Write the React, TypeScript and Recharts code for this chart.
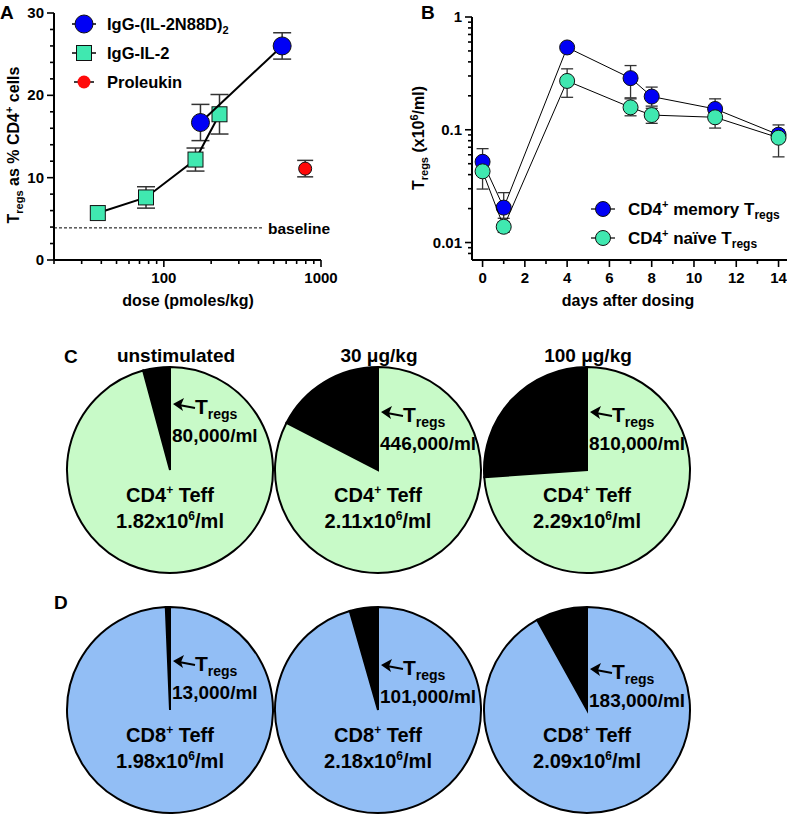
import React from 'react';
import {
  ComposedChart,
  Scatter,
  XAxis,
  YAxis,
  ErrorBar,
  ReferenceLine,
  PieChart,
  Pie,
  Cell,
} from 'recharts';

const FONT = '"Liberation Sans", Arial, Helvetica, sans-serif';

// Panel A: Tregs as % of CD4+ cells against dose
const n88dDose = [171, 566];
const n88dPct = [16.7, 26.0];
const n88dErr = [2.2, 1.6];
const il2Dose = [38, 77, 159, 226];
const il2Pct = [5.7, 7.6, 12.2, 17.7];
const il2Err = [0, 1.3, 1.4, 2.4];
const proleukinDose = [793];
const proleukinPct = [11.1];
const proleukinErr = [1.0];
const baselinePct = 3.9;
const baselineEndDose = 430;
const doseTicks = [20, 30, 40, 50, 60, 70, 80, 90, 100, 200, 300, 400, 500, 600, 700, 800, 900, 1000];
const doseLabels = [100, 1000];
const pctTicks = [0, 2, 4, 6, 8, 10, 12, 14, 16, 18, 20, 22, 24, 26, 28, 30];
const pctLabels = [0, 10, 20, 30];

// Panel B: Tregs (x10^6/ml) against days after dosing
const days = [0, 1, 4, 7, 8, 11, 14];
const memoryTregs = [0.052, 0.0204, 0.537, 0.287, 0.197, 0.153, 0.0904];
const memoryErr = [[0.012, 0.016], [0.004, 0.0073], [0.03, 0.03], [0.095, 0.084], [0.035, 0.042], [0.02, 0.035], [0.012, 0.02]];
const naiveTregs = [0.0428, 0.0138, 0.271, 0.158, 0.135, 0.129, 0.085];
const naiveErr = [[0.013, 0.012], [0.0015, 0.0015], [0.077, 0.076], [0.025, 0.03], [0.021, 0.02], [0.0255, 0.02], [0.0275, 0.015]];
const dayTicks = [0, 1, 2, 3, 4, 5, 6, 7, 8, 9, 10, 11, 12, 13, 14];
const dayLabels = [0, 2, 4, 6, 8, 10, 12, 14];
const concTicks = [0.008, 0.009, 0.01, 0.02, 0.03, 0.04, 0.05, 0.06, 0.07, 0.08, 0.09, 0.1, 0.2, 0.3, 0.4, 0.5, 0.6, 0.7, 0.8, 0.9, 1];
const concLabels = [0.01, 0.1, 1];

// Panels C and D: cells per ml
const doseGroups = ['unstimulated', '30 μg/kg', '100 μg/kg'];
const cd4Tregs = [80000, 446000, 810000];
const cd4Teff = [1820000, 2110000, 2290000];
const cd8Tregs = [13000, 101000, 183000];
const cd8Teff = [1980000, 2180000, 2090000];

const BLUE = '#0000F5';
const GREEN = '#40E8B0';
const RED = '#FF0a0a';
const PIE_GREEN = '#C8FAC8';
const PIE_BLUE = '#92BEF5';

const toPoints = (xs: number[], ys: number[], errs: any[]) =>
  xs.map((x, i) => ({ x, y: ys[i], err: errs[i] }));

const has = (list: number[], v: number) => list.some((l) => Math.abs(l - v) < 1e-9);

// custom ticks: tickSize/tickMargin are 0 so x,y sit on the axis line
const bottomTick = (labels: number[]) => (props: any) => {
  const { x, y, payload } = props;
  const major = has(labels, payload.value);
  return (
    <g>
      <line x1={x} x2={x} y1={y} y2={y + (major ? 7 : 4)} stroke="#000" strokeWidth={1.6} />
      {major && (
        <text x={x} y={y + 23} textAnchor="middle" fontFamily={FONT} fontWeight="bold" fontSize={15} fill="#000">
          {payload.value}
        </text>
      )}
    </g>
  );
};

const leftTick = (labels: number[]) => (props: any) => {
  const { x, y, payload } = props;
  const major = has(labels, payload.value);
  return (
    <g>
      <line x1={x - (major ? 7 : 4)} x2={x} y1={y} y2={y} stroke="#000" strokeWidth={1.6} />
      {major && (
        <text x={x - 10} y={y + 5} textAnchor="end" fontFamily={FONT} fontWeight="bold" fontSize={15} fill="#000">
          {payload.value}
        </text>
      )}
    </g>
  );
};

const dot = (r: number, fill: string) => (p: any) => (
  <circle cx={p.cx} cy={p.cy} r={r} fill={fill} stroke="#111" strokeWidth={1} />
);
const square = (s: number, fill: string) => (p: any) => (
  <rect x={p.cx - s / 2} y={p.cy - s / 2} width={s} height={s} fill={fill} stroke="#111" strokeWidth={1} />
);

const axisLine = { stroke: '#000', strokeWidth: 2 };
const txt = { fontFamily: FONT, fontWeight: 'bold' as const, fill: '#000' };

const PanelA = () => (
  <ComposedChart width={390} height={310} margin={{ top: 13, right: 69, bottom: 20, left: 0 }}>
    <XAxis
      type="number"
      dataKey="x"
      scale="log"
      domain={[20, 1000]}
      allowDataOverflow
      ticks={doseTicks}
      interval={0}
      tickSize={0}
      tickMargin={0}
      tickLine={false}
      axisLine={axisLine}
      tick={bottomTick(doseLabels)}
      height={30}
    />
    <YAxis
      type="number"
      dataKey="y"
      domain={[0, 30]}
      ticks={pctTicks}
      interval={0}
      tickSize={0}
      tickMargin={0}
      tickLine={false}
      axisLine={axisLine}
      tick={leftTick(pctLabels)}
      width={54}
    />
    <ReferenceLine
      segment={[{ x: 20, y: baselinePct }, { x: baselineEndDose, y: baselinePct }]}
      stroke="#000"
      strokeWidth={1}
      strokeDasharray="3 2"
    />
    <Scatter
      data={toPoints(il2Dose, il2Pct, il2Err)}
      line={{ stroke: '#000', strokeWidth: 2 }}
      lineType="joint"
      shape={square(15, GREEN)}
      isAnimationActive={false}
    >
      <ErrorBar dataKey="err" direction="y" width={9} stroke="#333" strokeWidth={1.5} />
    </Scatter>
    <Scatter
      data={toPoints(n88dDose, n88dPct, n88dErr)}
      line={{ stroke: '#000', strokeWidth: 2 }}
      lineType="joint"
      shape={dot(9, BLUE)}
      isAnimationActive={false}
    >
      <ErrorBar dataKey="err" direction="y" width={9} stroke="#333" strokeWidth={1.5} />
    </Scatter>
    <Scatter data={toPoints(proleukinDose, proleukinPct, proleukinErr)} shape={dot(6.5, RED)} isAnimationActive={false}>
      <ErrorBar dataKey="err" direction="y" width={8} stroke="#333" strokeWidth={1.5} />
    </Scatter>
  </ComposedChart>
);

const PanelB = () => (
  <ComposedChart width={397} height={310} margin={{ top: 17, right: 0, bottom: 20, left: 0 }}>
    <XAxis
      type="number"
      dataKey="x"
      domain={[-0.5, 14.4]}
      allowDataOverflow
      ticks={dayTicks}
      interval={0}
      tickSize={0}
      tickMargin={0}
      tickLine={false}
      axisLine={axisLine}
      tick={bottomTick(dayLabels)}
      height={30}
    />
    <YAxis
      type="number"
      dataKey="y"
      scale="log"
      domain={[0.007, 1]}
      allowDataOverflow
      ticks={concTicks}
      interval={0}
      tickSize={0}
      tickMargin={0}
      tickLine={false}
      axisLine={axisLine}
      tick={leftTick(concLabels)}
      width={82}
    />
    <Scatter
      data={toPoints(days, memoryTregs, memoryErr)}
      line={{ stroke: '#000', strokeWidth: 1 }}
      lineType="joint"
      shape={dot(7.5, BLUE)}
      isAnimationActive={false}
    >
      <ErrorBar dataKey="err" direction="y" width={6} stroke="#333" strokeWidth={1.3} />
    </Scatter>
    <Scatter
      data={toPoints(days, naiveTregs, naiveErr)}
      line={{ stroke: '#000', strokeWidth: 1 }}
      lineType="joint"
      shape={dot(7.5, GREEN)}
      isAnimationActive={false}
    >
      <ErrorBar dataKey="err" direction="y" width={6} stroke="#333" strokeWidth={1.3} />
    </Scatter>
  </ComposedChart>
);

const pieCx = [170, 378, 587];
const PIE_TOP = 330;
const rowCy = [470, 710];
const R = 103;

const pieRows = [
  { tregs: cd4Tregs, teff: cd4Teff, fill: PIE_GREEN, name: 'CD4' },
  { tregs: cd8Tregs, teff: cd8Teff, fill: PIE_BLUE, name: 'CD8' },
];

const Pies = () => (
  <PieChart width={787} height={485} margin={{ top: 0, right: 0, bottom: 0, left: 0 }}>
    {pieRows.map((row, r) =>
      row.tregs.map((t, i) => (
        <Pie
          key={`${r}-${i}`}
          data={[
            { name: 'Tregs', value: t },
            { name: 'Teff', value: row.teff[i] },
          ]}
          dataKey="value"
          cx={pieCx[i]}
          cy={rowCy[r] - PIE_TOP}
          outerRadius={R}
          startAngle={90}
          endAngle={450}
          stroke="#000"
          strokeWidth={2}
          isAnimationActive={false}
        >
          <Cell fill="#000" />
          <Cell fill={row.fill} />
        </Pie>
      ))
    )}
  </PieChart>
);

const Arrow = ({ x, y }: { x: number; y: number }) => (
  <g>
    <line x1={x + 22} y1={y + 3} x2={x + 6} y2={y} stroke="#000" strokeWidth={2.2} />
    <polygon points={`${x},${y - 1} ${x + 11},${y - 7} ${x + 8},${y} ${x + 10},${y + 6}`} fill="#000" />
  </g>
);

const Overlay = () => (
  <svg width={787} height={815} style={{ position: 'absolute', left: 0, top: 0, pointerEvents: 'none' }}>
    {/* panel letters */}
    <text x={0} y={19} fontSize={19} {...txt}>A</text>
    <text x={421} y={19} fontSize={19} {...txt}>B</text>
    <text x={64} y={363} fontSize={19} {...txt}>C</text>
    <text x={54} y={609} fontSize={19} {...txt}>D</text>

    {/* panel A labels */}
    <text transform="translate(19,145) rotate(-90)" textAnchor="middle" fontSize={16} {...txt}>
      T<tspan fontSize={11} dy={4}>regs</tspan>
      <tspan dy={-4}> as % CD4</tspan>
      <tspan fontSize={11} dy={-6}>+</tspan>
      <tspan dy={6}> cells</tspan>
    </text>
    <text x={188} y={306} textAnchor="middle" fontSize={16} {...txt}>dose (pmoles/kg)</text>
    <text x={268} y={234} fontSize={15.5} {...txt}>baseline</text>
    {/* panel A legend */}
    <g>
      <line x1={72} x2={96} y1={24} y2={24} stroke="#000" strokeWidth={1.5} />
      <circle cx={84} cy={24} r={9} fill={BLUE} stroke="#111" />
      <text x={107} y={30} fontSize={16.5} {...txt}>
        IgG-(IL-2N88D)<tspan fontSize={11} dy={4}>2</tspan>
      </text>
      <line x1={72} x2={96} y1={53} y2={53} stroke="#000" strokeWidth={1.5} />
      <rect x={76.5} y={45.5} width={15} height={15} fill={GREEN} stroke="#111" />
      <text x={107} y={59} fontSize={16.5} {...txt}>IgG-IL-2</text>
      <line x1={74} x2={94} y1={82} y2={82} stroke="#000" strokeWidth={1.5} />
      <circle cx={84} cy={82} r={6.5} fill={RED} />
      <text x={107} y={88} fontSize={16.5} {...txt}>Proleukin</text>
    </g>

    {/* panel B labels */}
    <text transform="translate(424,138) rotate(-90)" textAnchor="middle" fontSize={16} {...txt}>
      T<tspan fontSize={11} dy={4}>regs</tspan>
      <tspan dy={-4}> (x10</tspan>
      <tspan fontSize={11} dy={-6}>6</tspan>
      <tspan dy={6}>/ml)</tspan>
    </text>
    <text x={628} y={306} textAnchor="middle" fontSize={16} {...txt}>days after dosing</text>
    <g>
      <line x1={591} x2={615} y1={209} y2={209} stroke="#000" strokeWidth={1.2} />
      <circle cx={603} cy={209} r={7.5} fill={BLUE} stroke="#111" />
      <text x={628} y={215} fontSize={17} {...txt}>
        CD4<tspan fontSize={11} dy={-7}>+</tspan>
        <tspan dy={7}> memory T</tspan>
        <tspan fontSize={12} dy={4}>regs</tspan>
      </text>
      <line x1={591} x2={615} y1={238} y2={238} stroke="#000" strokeWidth={1.2} />
      <circle cx={603} cy={238} r={7.5} fill={GREEN} stroke="#111" />
      <text x={628} y={244} fontSize={17} {...txt}>
        CD4<tspan fontSize={11} dy={-7}>+</tspan>
        <tspan dy={7}> naïve T</tspan>
        <tspan fontSize={12} dy={4}>regs</tspan>
      </text>
    </g>

    {/* pie titles */}
    {doseGroups.map((g, i) => (
      <text key={g} x={pieCx[i] + (i === 0 ? 6 : 1)} y={362} textAnchor="middle" fontSize={19} {...txt}>
        {g}
      </text>
    ))}

    {/* pie labels */}
    {pieRows.map((row, r) =>
      row.tregs.map((t, i) => {
        const cx = pieCx[i];
        const cy = rowCy[r];
        const ay = r === 0 ? cy - 57 + (i === 0 ? -8 : 0) : cy - 48 + i * 4;
        return (
          <g key={`lab-${r}-${i}`}>
            <Arrow x={cx + 3} y={ay} />
            <text x={cx + 25} y={ay + 9} fontSize={21} {...txt}>
              T<tspan fontSize={14} dy={5}>regs</tspan>
            </text>
            <text x={cx + 2} y={ay + 37} fontSize={19} {...txt}>
              {t.toLocaleString('en-US')}/ml
            </text>
            <text x={cx} y={cy + 32} textAnchor="middle" fontSize={20} {...txt}>
              {row.name}
              <tspan fontSize={12} dy={-8}>+</tspan>
              <tspan dy={8}> Teff</tspan>
            </text>
            <text x={cx} y={cy + 58} textAnchor="middle" fontSize={20} {...txt}>
              {(row.teff[i] / 1e6).toFixed(2)}x10<tspan fontSize={12} dy={-8}>6</tspan>
              <tspan dy={8}>/ml</tspan>
            </text>
          </g>
        );
      })
    )}
  </svg>
);

export default function App() {
  return (
    <div style={{ position: 'absolute', left: 0, top: 0, width: 787, height: 815, background: '#fff', overflow: 'hidden' }}>
      <div style={{ position: 'absolute', left: 0, top: 0 }}>
        <PanelA />
      </div>
      <div style={{ position: 'absolute', left: 390, top: 0 }}>
        <PanelB />
      </div>
      <div style={{ position: 'absolute', left: 0, top: PIE_TOP }}>
        <Pies />
      </div>
      <Overlay />
    </div>
  );
}
